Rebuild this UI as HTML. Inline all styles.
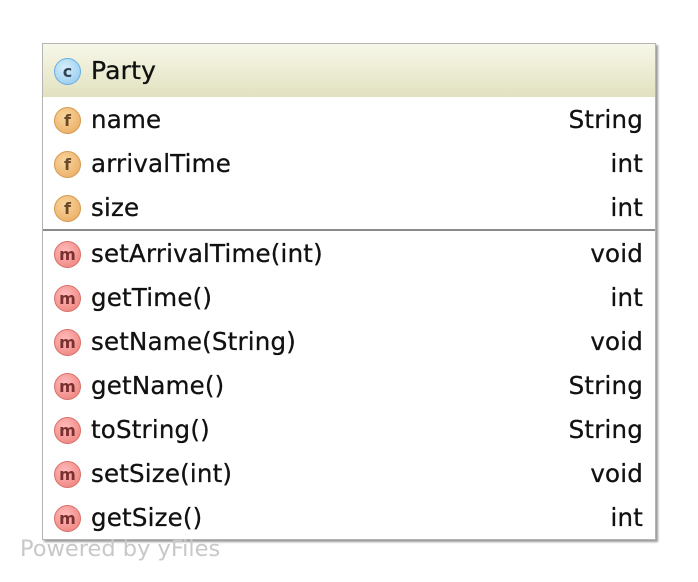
<!DOCTYPE html>
<html><head><style>
body{margin:0;width:698px;height:582px;background:#fff;position:relative;font-family:"DejaVu Sans","Liberation Sans",sans-serif;overflow:hidden}
.box{position:absolute;left:42px;top:43px;width:612px;height:495px;border:1px solid #b4b4b4;box-shadow:2px 2px 2px #999;background:#fff}
.hd{position:absolute;left:0;top:0;width:612px;height:53px;background:linear-gradient(#f7f7ea,#e2e2c0)}
.row{position:absolute;left:0;width:612px;height:44px;font-size:24.5px;color:#111;letter-spacing:0.2px;-webkit-text-stroke:0.3px #111}
.ic{position:absolute;left:11px;top:9px;width:27px;height:27px;border-radius:50%;font-size:16px;line-height:25px;text-align:center;color:#6b4a2a;box-sizing:border-box;letter-spacing:0;font-weight:bold;-webkit-text-stroke:0}
.f{background:radial-gradient(circle at 40% 35%,#f8d6a0,#e8a75a);border:1px solid #d59a50}
.m{background:radial-gradient(circle at 40% 35%,#fbb,#ec7b74);border:1px solid #d8706a;color:#7a3030}
.c{background:radial-gradient(circle at 40% 35%,#d6effc,#8cc6ec);border:1px solid #6aaee0;color:#345}
.nm{position:absolute;left:48px;top:7px}
.ty{position:absolute;right:12px;top:7px}
.sep{position:absolute;left:0;top:185px;width:612px;height:2px;background:#8a8a8a}
.pw{position:absolute;left:20px;top:536px;font-size:22.5px;color:#c8c8c8}
</style></head><body>
<div class="box">
<div class="hd"><div class="row" style="top:5px;font-size:25px"><div class="ic c">c</div><div class="nm">Party</div></div></div>
<div class="row" style="top:54px"><div class="ic f">f</div><div class="nm">name</div><div class="ty">String</div></div>
<div class="row" style="top:98px"><div class="ic f">f</div><div class="nm">arrivalTime</div><div class="ty">int</div></div>
<div class="row" style="top:142px"><div class="ic f">f</div><div class="nm">size</div><div class="ty">int</div></div>
<div class="sep"></div>
<div class="row" style="top:188px"><div class="ic m">m</div><div class="nm">setArrivalTime(int)</div><div class="ty">void</div></div>
<div class="row" style="top:232px"><div class="ic m">m</div><div class="nm">getTime()</div><div class="ty">int</div></div>
<div class="row" style="top:276px"><div class="ic m">m</div><div class="nm">setName(String)</div><div class="ty">void</div></div>
<div class="row" style="top:320px"><div class="ic m">m</div><div class="nm">getName()</div><div class="ty">String</div></div>
<div class="row" style="top:364px"><div class="ic m">m</div><div class="nm">toString()</div><div class="ty">String</div></div>
<div class="row" style="top:408px"><div class="ic m">m</div><div class="nm">setSize(int)</div><div class="ty">void</div></div>
<div class="row" style="top:452px"><div class="ic m">m</div><div class="nm">getSize()</div><div class="ty">int</div></div>
</div>
<div class="pw">Powered by yFiles</div>
</body></html>
